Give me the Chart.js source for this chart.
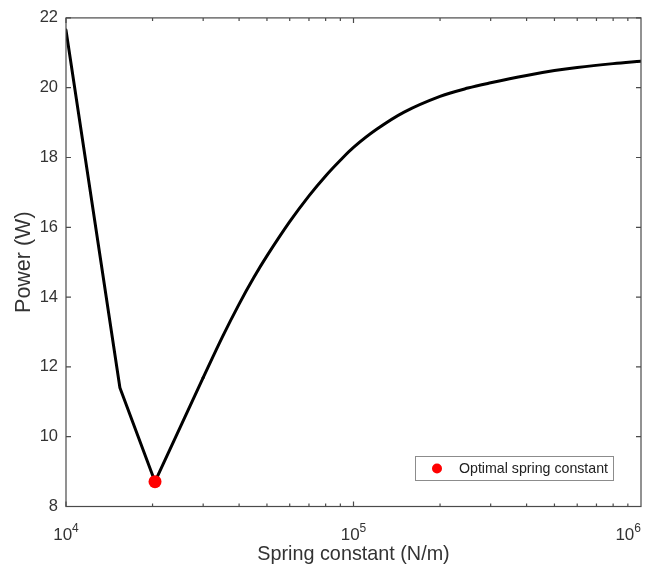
<!DOCTYPE html>
<html>
<head>
<meta charset="utf-8">
<title>Power vs spring constant</title>
<script src="https://cdn.jsdelivr.net/npm/chart.js@4"></script>
<style>
  html, body { margin: 0; padding: 0; background: #fff; }
  #wrap { width: 658px; height: 579px; }
</style>
</head>
<body>
<div id="wrap"><canvas id="power-chart" width="658" height="579"></canvas></div>
<script>
// spring constant (N/m) and computed power (W)
const springK = [1e4, 1.54e4, 2.04e4, 3e4, 3.5e4, 4e4, 4.5e4, 5e4, 6e4, 7e4, 8e4, 9e4, 1e5, 1.2e5, 1.5e5, 2e5, 2.5e5, 3e5, 4e5, 5e5, 6e5, 8e5, 1e6];
const power = [21.65, 11.4, 8.71, 11.69, 12.86, 13.8, 14.56, 15.18, 16.16, 16.9, 17.47, 17.92, 18.29, 18.8, 19.3, 19.75, 19.99, 20.14, 20.35, 20.49, 20.58, 20.69, 20.76];

// optimum marker
const optimalK = [2.04e4];
const optimalPower = [8.71];

// axis ticks
const yTicks = [8, 10, 12, 14, 16, 18, 20, 22];
const xDecades = [4, 5, 6];

const textColor = '#333333';
const axisColor = '#4a4a4a';
const fontFamily = '"Liberation Sans", Arial, Helvetica, sans-serif';

// first few samples are coarse (straight segments), the rest is a smooth curve
const coarseEnd = 4;
const coarsePts = springK.slice(0, coarseEnd).map((k, i) => ({ x: k, y: power[i] }));
const smoothPts = springK.slice(coarseEnd - 1).map((k, i) => ({ x: k, y: power[i + coarseEnd - 1] }));

// box, inward ticks, decade labels and legend (MATLAB style)
const matlabAxes = {
  id: 'matlabAxes',
  afterDraw(chart) {
    const ctx = chart.ctx;
    const area = chart.chartArea;
    const xs = chart.scales.x;
    const ys = chart.scales.y;

    ctx.save();
    ctx.strokeStyle = axisColor;
    ctx.lineWidth = 1.2;
    ctx.strokeRect(area.left, area.top, area.right - area.left, area.bottom - area.top);

    // y ticks on both sides
    ctx.beginPath();
    yTicks.forEach(v => {
      const py = ys.getPixelForValue(v);
      ctx.moveTo(area.left, py); ctx.lineTo(area.left + 5, py);
      ctx.moveTo(area.right, py); ctx.lineTo(area.right - 5, py);
    });
    // x ticks, major and minor, top and bottom
    for (let d = 4; d < 6; d++) {
      for (let m = 1; m <= 9; m++) {
        const px = xs.getPixelForValue(m * Math.pow(10, d));
        const len = m === 1 ? 5 : 3;
        ctx.moveTo(px, area.bottom); ctx.lineTo(px, area.bottom - len);
        ctx.moveTo(px, area.top); ctx.lineTo(px, area.top + len);
      }
    }
    ctx.stroke();

    // decade labels 10^n
    ctx.fillStyle = textColor;
    ctx.textBaseline = 'alphabetic';
    ctx.textAlign = 'left';
    const baseFont = '17px ' + fontFamily;
    const supFont = '12px ' + fontFamily;
    xDecades.forEach(d => {
      ctx.font = baseFont;
      const wBase = ctx.measureText('10').width;
      ctx.font = supFont;
      const wSup = ctx.measureText(String(d)).width;
      const total = wBase + wSup;
      let left = xs.getPixelForValue(Math.pow(10, d)) - total / 2;
      if (left + total > area.right) left = area.right - total;
      ctx.font = baseFont;
      ctx.fillText('10', left, 540);
      ctx.font = supFont;
      ctx.fillText(String(d), left + wBase, 532);
    });

    // legend box
    const lx = 415, ly = 456, lw = 198, lh = 24;
    ctx.fillStyle = '#ffffff';
    ctx.fillRect(lx, ly, lw, lh);
    ctx.strokeStyle = '#8c8c8c';
    ctx.lineWidth = 1;
    ctx.strokeRect(lx + 0.5, ly + 0.5, lw, lh);
    ctx.fillStyle = '#ff0000';
    ctx.beginPath();
    ctx.arc(437, 468.5, 5, 0, Math.PI * 2);
    ctx.fill();
    ctx.fillStyle = '#222222';
    ctx.font = '14.2px ' + fontFamily;
    ctx.textBaseline = 'middle';
    ctx.fillText('Optimal spring constant', 459, 469);
    ctx.restore();
  }
};

const ctx = document.getElementById('power-chart').getContext('2d');
new Chart(ctx, {
  type: 'line',
  data: {
    datasets: [
      {
        label: 'Optimal spring constant',
        data: optimalK.map((k, i) => ({ x: k, y: optimalPower[i] })),
        showLine: false,
        pointRadius: 6.5,
        pointBackgroundColor: '#ff0000',
        pointBorderWidth: 0,
        order: 0
      },
      {
        label: 'Power',
        data: coarsePts,
        borderColor: '#000000',
        borderWidth: 3,
        pointRadius: 0,
        tension: 0,
        borderJoinStyle: 'round',
        borderCapStyle: 'round',
        order: 1
      },
      {
        label: 'Power (smooth)',
        data: smoothPts,
        borderColor: '#000000',
        borderWidth: 3,
        pointRadius: 0,
        tension: 0.35,
        borderCapStyle: 'round',
        order: 1
      }
    ]
  },
  options: {
    responsive: false,
    animation: false,
    layout: { padding: { left: 0, top: 12.5, right: 17, bottom: 0 } },
    plugins: {
      legend: { display: false },
      tooltip: { enabled: false }
    },
    scales: {
      x: {
        type: 'logarithmic',
        min: 1e4,
        max: 1e6,
        grid: { display: false, drawTicks: false },
        border: { display: false },
        ticks: { display: false },
        afterFit(scale) { scale.height = 72.5; },
        title: {
          display: true,
          text: 'Spring constant (N/m)',
          color: textColor,
          font: { family: fontFamily, size: 19.8 },
          padding: { top: 0, bottom: 13 }
        }
      },
      y: {
        min: 8,
        max: 22,
        grid: { display: false, drawTicks: false },
        border: { display: false },
        afterFit(scale) { scale.width = 66; },
        ticks: {
          stepSize: 2,
          padding: 8,
          color: textColor,
          font: { family: fontFamily, size: 16.5 }
        },
        title: {
          display: true,
          text: 'Power (W)',
          color: textColor,
          font: { family: fontFamily, size: 21.5 },
          padding: { top: 11, bottom: 0 }
        }
      }
    }
  },
  plugins: [matlabAxes]
});
</script>
</body>
</html>
